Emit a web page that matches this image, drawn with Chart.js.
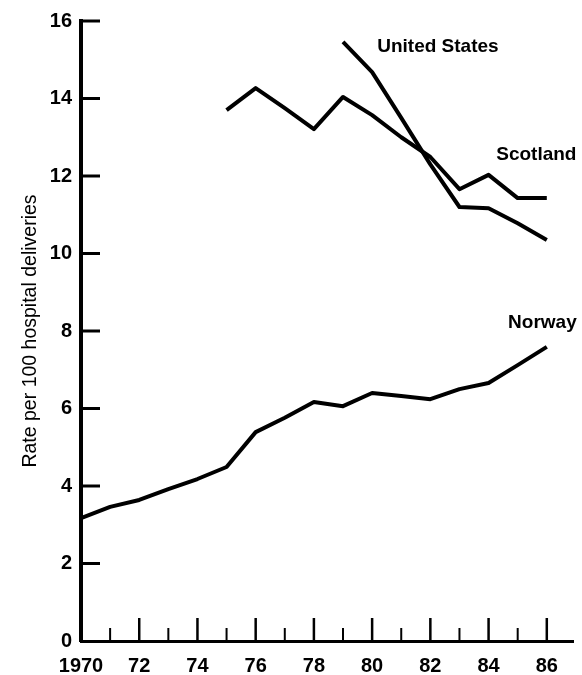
<!DOCTYPE html>
<html>
<head>
<meta charset="utf-8">
<script src="https://cdn.jsdelivr.net/npm/chart.js@4/dist/chart.umd.min.js"></script>
<style>
  html, body { margin: 0; padding: 0; background: #fff; }
  #wrap { width: 582px; height: 675px; position: relative; }
</style>
</head>
<body>
<div id="wrap"><canvas id="chart"></canvas></div>
<script>
// Caesarean-style delivery rates, per 100 hospital deliveries
const years = [1970, 1971, 1972, 1973, 1974, 1975, 1976, 1977, 1978, 1979, 1980, 1981, 1982, 1983, 1984, 1985, 1986];
const norway = [3.17, 3.46, 3.64, 3.92, 4.18, 4.49, 5.39, 5.76, 6.17, 6.06, 6.40, 6.32, 6.24, 6.50, 6.66, 7.12, 7.59];
const scotland = [null, null, null, null, null, 13.70, 14.27, 13.75, 13.21, 14.04, 13.57, 13.00, 12.49, 11.66, 12.03, 11.43, 11.43];
const unitedStates = [null, null, null, null, null, null, null, null, null, 15.46, 14.68, 13.50, 12.30, 11.20, 11.17, 10.78, 10.35];
const seriesNames = ['Norway', 'Scotland', 'United States'];
const yTicks = [0, 2, 4, 6, 8, 10, 12, 14, 16];

const FONT = '"Liberation Sans", Arial, Helvetica, sans-serif';

function toPoints(values) {
  return years.map((yr, i) => ({ x: yr, y: values[i] })).filter(p => p.y !== null);
}

function lineDataset(name, values) {
  return {
    label: name,
    data: toPoints(values),
    borderColor: '#000',
    borderWidth: 4,
    borderJoinStyle: 'round',
    borderCapStyle: 'butt',
    pointRadius: 0,
    tension: 0,
    fill: false
  };
}

// Short inward tick marks on both axes: long for even years, short for odd ones
const inwardTicks = {
  id: 'inwardTicks',
  beforeDatasetsDraw(chart) {
    const { ctx, scales: { x, y } } = chart;
    ctx.save();
    ctx.strokeStyle = '#000';
    ctx.lineCap = 'butt';
    yTicks.forEach(v => {
      if (v === 0) return;
      const py = y.getPixelForValue(v);
      ctx.lineWidth = 3;
      ctx.beginPath();
      ctx.moveTo(x.left, py);
      ctx.lineTo(x.left + 19, py);
      ctx.stroke();
    });
    years.forEach(yr => {
      if (yr === years[0]) return;
      const px = x.getPixelForValue(yr);
      const major = yr % 2 === 0;
      ctx.lineWidth = major ? 2.5 : 2;
      ctx.beginPath();
      ctx.moveTo(px, y.bottom);
      ctx.lineTo(px, y.bottom - (major ? 23 : 13));
      ctx.stroke();
    });
    ctx.restore();
  }
};

// Series names written beside their lines
const seriesLabels = {
  id: 'seriesLabels',
  afterDatasetsDraw(chart, args, opts) {
    const { ctx, scales: { x, y } } = chart;
    ctx.save();
    ctx.fillStyle = '#000';
    ctx.font = 'bold 19px ' + FONT;
    ctx.textAlign = 'center';
    ctx.textBaseline = 'middle';
    opts.items.forEach(it => {
      ctx.fillText(it.text, x.getPixelForValue(it.x), y.getPixelForValue(it.y));
    });
    ctx.restore();
  }
};

new Chart(document.getElementById('chart'), {
  type: 'line',
  data: {
    datasets: [
      lineDataset(seriesNames[0], norway),
      lineDataset(seriesNames[1], scotland),
      lineDataset(seriesNames[2], unitedStates)
    ]
  },
  plugins: [inwardTicks, seriesLabels],
  options: {
    responsive: true,
    maintainAspectRatio: false,
    animation: false,
    devicePixelRatio: 1,
    layout: { padding: { top: 21, right: 9, left: 0, bottom: 0 } },
    plugins: {
      legend: { display: false },
      tooltip: { enabled: false },
      seriesLabels: {
        items: [
          { text: seriesNames[2], x: 1982.26, y: 15.33 },
          { text: seriesNames[1], x: 1985.64, y: 12.54 },
          { text: seriesNames[0], x: 1985.85, y: 8.21 }
        ]
      }
    },
    scales: {
      x: {
        type: 'linear',
        min: 1970,
        max: 1986.9,
        afterFit(s) { s.height = 34; },
        grid: { display: false, drawTicks: false },
        border: { display: true, color: '#000', width: 3 },
        ticks: {
          stepSize: 1,
          includeBounds: false,
          autoSkip: false,
          maxRotation: 0,
          padding: 13,
          color: '#000',
          font: { family: FONT, size: 20, weight: 'bold' },
          callback(v) {
            if (v % 2 !== 0) return '';
            return v === 1970 ? '1970' : String(v).slice(2);
          }
        }
      },
      y: {
        type: 'linear',
        min: 0,
        max: 16,
        afterFit(s) { s.width = 81; },
        afterBuildTicks(s) { s.ticks = yTicks.map(v => ({ value: v })); },
        grid: { display: false, drawTicks: false },
        border: { display: true, color: '#000', width: 4 },
        ticks: {
          padding: 9,
          color: '#000',
          font: { family: FONT, size: 20, weight: 'bold' }
        },
        title: {
          display: true,
          text: 'Rate per 100 hospital deliveries',
          color: '#000',
          padding: { top: 19, bottom: 0 },
          font: { family: FONT, size: 19.5, weight: 'normal' }
        }
      }
    }
  }
});
</script>
</body>
</html>
